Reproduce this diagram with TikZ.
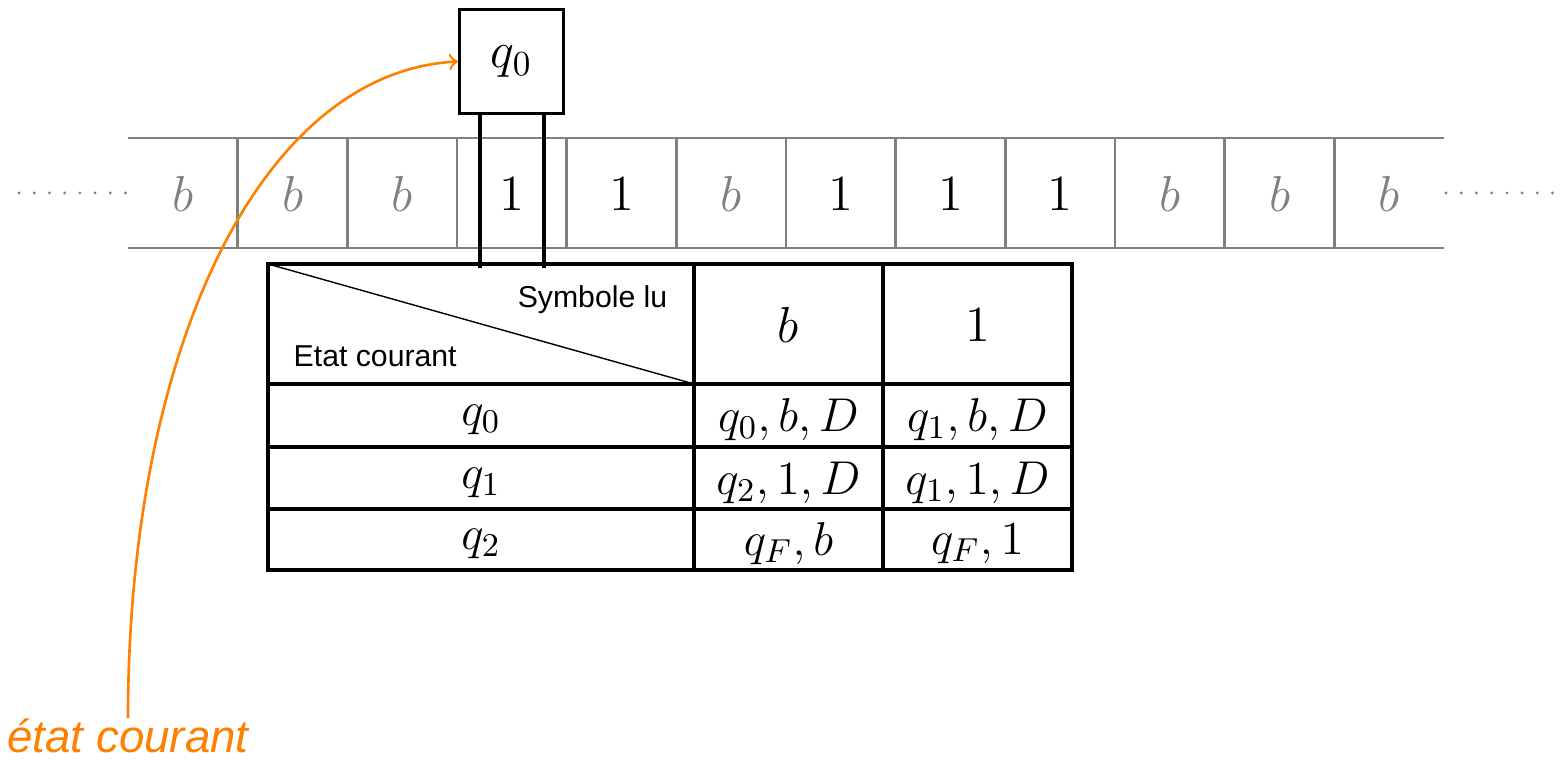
\RequirePackage{fix-cm}
\documentclass[tikz,border=0pt]{standalone}
\usepackage{fontspec}
\setsansfont{Liberation Sans}
\definecolor{etat}{RGB}{255,128,0}
\tikzset{
  ruban/.style={gray,line width=0.75pt},
  trait/.style={line width=0.95pt},
  grand/.style={font=\fontsize{14.4}{17}\selectfont},
  case/.style={font=\fontsize{13.5}{16}\selectfont},
  petit/.style={font=\sffamily\fontsize{8.6}{10}\selectfont,inner sep=0},
}
\begin{document}
\begin{tikzpicture}
\useasboundingbox (0,0) rectangle (15.61,7.72);
% ruban
\draw[ruban] (1.28,6.34) -- (14.44,6.34);
\draw[ruban] (1.28,5.24) -- (14.44,5.24);
\foreach \i in {1,...,11}
  \draw[ruban] (1.28+\i*1.0967,6.34) -- (1.28+\i*1.0967,5.24);
\foreach \i/\s/\c in {0/b/gray,1/b/gray,2/b/gray,3/1/black,4/1/black,5/b/gray,
                      6/1/black,7/1/black,8/1/black,9/b/gray,10/b/gray,11/b/gray}
  \node[grand,text=\c] (c\i) at (1.83+\i*1.0967,5.78) {$\s$};
\draw[gray,line width=0.9pt,line cap=round,dash pattern=on 0pt off 4.33pt] (0.19,5.79) -- (1.26,5.79);
\draw[gray,line width=0.9pt,line cap=round,dash pattern=on 0pt off 4.33pt] (14.46,5.79) -- (15.53,5.79);
% tete de lecture
\node[draw,trait,grand,minimum size=1.04cm,inner sep=0] (tete) at (5.115,7.105) {$q_0$};
\draw[trait] ([xshift=-3.15mm]tete.south) -- ++(0,-1.53);
\draw[trait] ([xshift=3.25mm]tete.south) -- ++(0,-1.53);
% table de transition
\draw[trait] (2.68,2.02) rectangle (10.72,5.08);
\foreach \x in {6.94,8.83} \draw[trait] (\x,2.02) -- (\x,5.08);
\foreach \y in {3.88,3.25,2.63} \draw[trait] (2.68,\y) -- (10.72,\y);
\draw[line width=0.4pt] (2.68,5.08) -- (6.94,3.88);
\node[petit,anchor=base east] (lu) at (6.68,4.64) {Symbole lu};
\node[petit,anchor=base west] (courant) at (2.93,4.05) {Etat courant};
\node[grand] (hb) at (7.885,4.47) {$b$};
\node[grand] (h1) at (9.775,4.47) {$1$};
\node[case] (e0) at (4.81,3.52) {$q_0$};
\node[case] (e1) at (4.81,2.895) {$q_1$};
\node[case] (e2) at (4.81,2.28) {$q_2$};
\node[case] (t0b) at (7.885,3.52) {$q_0,b,D$};
\node[case] (t01) at (9.775,3.52) {$q_1,b,D$};
\node[case] (t1b) at (7.885,2.895) {$q_2,1,D$};
\node[case] (t11) at (9.775,2.895) {$q_1,1,D$};
\node[case] (t2b) at (7.885,2.28) {$q_F,b$};
\node[case] (t21) at (9.775,2.28) {$q_F,1$};
% etat courant
\node[anchor=north,inner sep=0,text=etat,font=\sffamily\itshape\fontsize{13}{15}\selectfont] (lbl) at (1.28,0.54) {état courant};
\draw[etat,line width=0.75pt,->] (lbl.north) .. controls (1.28,4.22) and (2.60,7.00) .. (tete.west);
\end{tikzpicture}
\end{document}
